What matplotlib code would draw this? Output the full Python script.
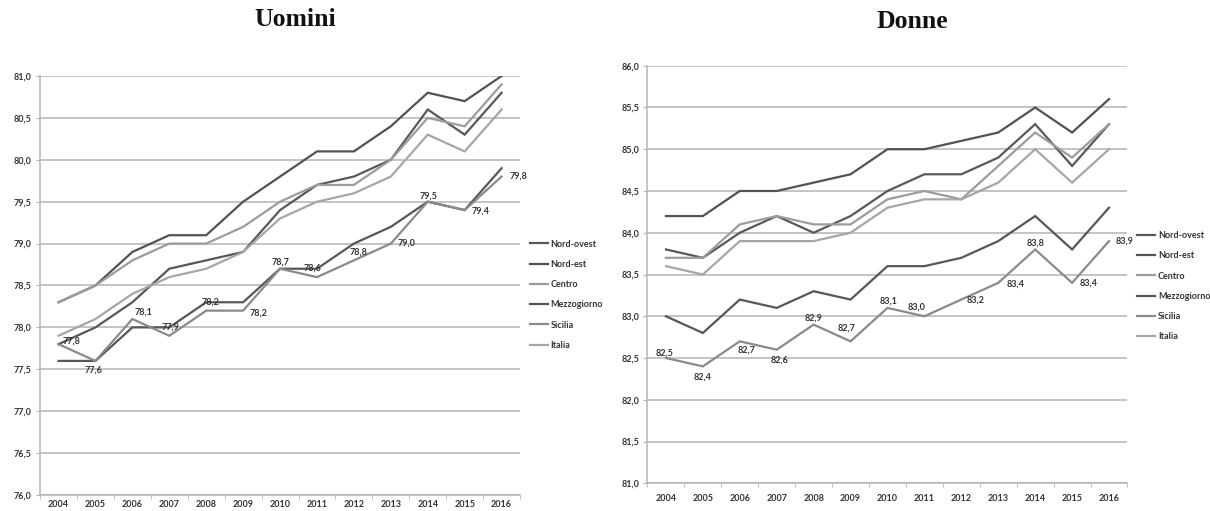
import numpy as np
import matplotlib
matplotlib.use("Agg")
import matplotlib.pyplot as plt

# Life expectancy at birth by area, 2004-2016
years = [str(y) for y in range(2004, 2017)]
series_names = ["Nord-ovest", "Nord-est", "Centro", "Mezzogiorno", "Sicilia", "Italia"]

men_nord_ovest = [77.8, 78.0, 78.3, 78.7, 78.8, 78.9, 79.4, 79.7, 79.8, 80.0, 80.6, 80.3, 80.8]
men_nord_est = [78.3, 78.5, 78.9, 79.1, 79.1, 79.5, 79.8, 80.1, 80.1, 80.4, 80.8, 80.7, 81.0]
men_centro = [78.3, 78.5, 78.8, 79.0, 79.0, 79.2, 79.5, 79.7, 79.7, 80.0, 80.5, 80.4, 80.9]
men_mezzogiorno = [77.6, 77.6, 78.0, 78.0, 78.3, 78.3, 78.7, 78.7, 79.0, 79.2, 79.5, 79.4, 79.9]
men_sicilia = [77.8, 77.6, 78.1, 77.9, 78.2, 78.2, 78.7, 78.6, 78.8, 79.0, 79.5, 79.4, 79.8]
men_italia = [77.9, 78.1, 78.4, 78.6, 78.7, 78.9, 79.3, 79.5, 79.6, 79.8, 80.3, 80.1, 80.6]

women_nord_ovest = [83.8, 83.7, 84.0, 84.2, 84.0, 84.2, 84.5, 84.7, 84.7, 84.9, 85.3, 84.8, 85.3]
women_nord_est = [84.2, 84.2, 84.5, 84.5, 84.6, 84.7, 85.0, 85.0, 85.1, 85.2, 85.5, 85.2, 85.6]
women_centro = [83.7, 83.7, 84.1, 84.2, 84.1, 84.1, 84.4, 84.5, 84.4, 84.8, 85.2, 84.9, 85.3]
women_mezzogiorno = [83.0, 82.8, 83.2, 83.1, 83.3, 83.2, 83.6, 83.6, 83.7, 83.9, 84.2, 83.8, 84.3]
women_sicilia = [82.5, 82.4, 82.7, 82.6, 82.9, 82.7, 83.1, 83.0, 83.2, 83.4, 83.8, 83.4, 83.9]
women_italia = [83.6, 83.5, 83.9, 83.9, 83.9, 84.0, 84.3, 84.4, 84.4, 84.6, 85.0, 84.6, 85.0]

men_ticks = [76.0, 76.5, 77.0, 77.5, 78.0, 78.5, 79.0, 79.5, 80.0, 80.5, 81.0]
women_ticks = [81.0, 81.5, 82.0, 82.5, 83.0, 83.5, 84.0, 84.5, 85.0, 85.5, 86.0]

# styling
colors = ["#585858", "#525252", "#9c9c9c", "#575757", "#8a8a8a", "#a6a6a6"]
text_color = "#333333"
grid_color = "#b4b4b4"

# label offsets (pixels) for the Sicilia data labels
men_label_off = [(13, 3), (-2, -9), (11, 7), (1, 9), (4, 9), (15, -2), (0, 7),
                 (-4, 9), (5, 8), (16, 0), (1, 6), (16, -1), (17, 0)]
women_label_off = [(-1, 5), (0, -11), (7, -9), (3, -10), (0, 6), (-4, 13), (1, 7),
                   (-8, 9), (14, -1), (17, -1), (0, 6), (16, 0), (16, 0)]


def draw_panel(ax, data, ticks, label_off, title, title_x, title_y, leg_y, xpad):
    x = np.arange(len(years))
    for name, vals, c in zip(series_names, data, colors):
        ax.plot(x, vals, color=c, lw=1.6, label=name, solid_joinstyle="miter")

    sic = data[4]
    for i, v in enumerate(sic):
        ax.annotate(f"{v:.1f}".replace(".", ","), (x[i], v), xytext=label_off[i],
                    textcoords="offset pixels", ha="center", va="center",
                    fontsize=6.5, fontweight="bold", color=text_color, family="Lato")

    ax.set_xlim(-0.5, len(years) - 0.5)
    ax.set_ylim(ticks[0], ticks[-1])
    ax.set_yticks(ticks)
    ax.set_yticklabels([f"{t:.1f}".replace(".", ",") for t in ticks])
    ax.set_xticks(x)
    ax.set_xticklabels(years)
    ax.set_xticks(np.arange(-0.5, len(years), 1.0), minor=True)
    ax.tick_params(axis="x", which="major", length=0, pad=xpad)
    ax.tick_params(axis="x", which="minor", length=3, color=grid_color)
    ax.tick_params(axis="y", length=3, color=grid_color, pad=3)
    for lab in ax.get_xticklabels() + ax.get_yticklabels():
        lab.set_fontsize(6.5)
        lab.set_fontweight("bold")
        lab.set_color(text_color)
        lab.set_family("Lato")

    ax.grid(axis="y", color=grid_color, lw=1.1)
    ax.set_axisbelow(True)
    for s in ["top", "right"]:
        ax.spines[s].set_visible(False)
    ax.spines["left"].set_color(grid_color)
    ax.spines["bottom"].set_color(grid_color)
    ax.spines["left"].set_linewidth(1.1)
    ax.spines["bottom"].set_linewidth(1.1)

    leg = ax.legend(loc="center left", bbox_to_anchor=(1.02, leg_y), frameon=False,
                    handlelength=2.0, handletextpad=0.3, labelspacing=1.25,
                    borderaxespad=0, borderpad=0,
                    prop={"family": "Lato", "size": 6.5, "weight": "bold"})
    for t in leg.get_texts():
        t.set_color(text_color)

    ax.figure.text(title_x, title_y, title, ha="center", va="center",
                   family="Liberation Serif", fontweight="bold", fontsize=18.5, color="#111111")


fig = plt.figure(figsize=(12.10, 5.11), dpi=100)
ax1 = fig.add_axes([0.0331, 0.0313, 0.3967, 0.8200])
ax2 = fig.add_axes([0.5351, 0.0542, 0.3967, 0.8172])

draw_panel(ax1,
           [men_nord_ovest, men_nord_est, men_centro, men_mezzogiorno, men_sicilia, men_italia],
           men_ticks, men_label_off, "Uomini", 295 / 1210, 1 - 20 / 511, 0.478, 3.5)
draw_panel(ax2,
           [women_nord_ovest, women_nord_est, women_centro, women_mezzogiorno, women_sicilia, women_italia],
           women_ticks, women_label_off, "Donne", 912 / 1210, 1 - 22 / 511, 0.472, 8)

fig.savefig("out.png", dpi=100)
